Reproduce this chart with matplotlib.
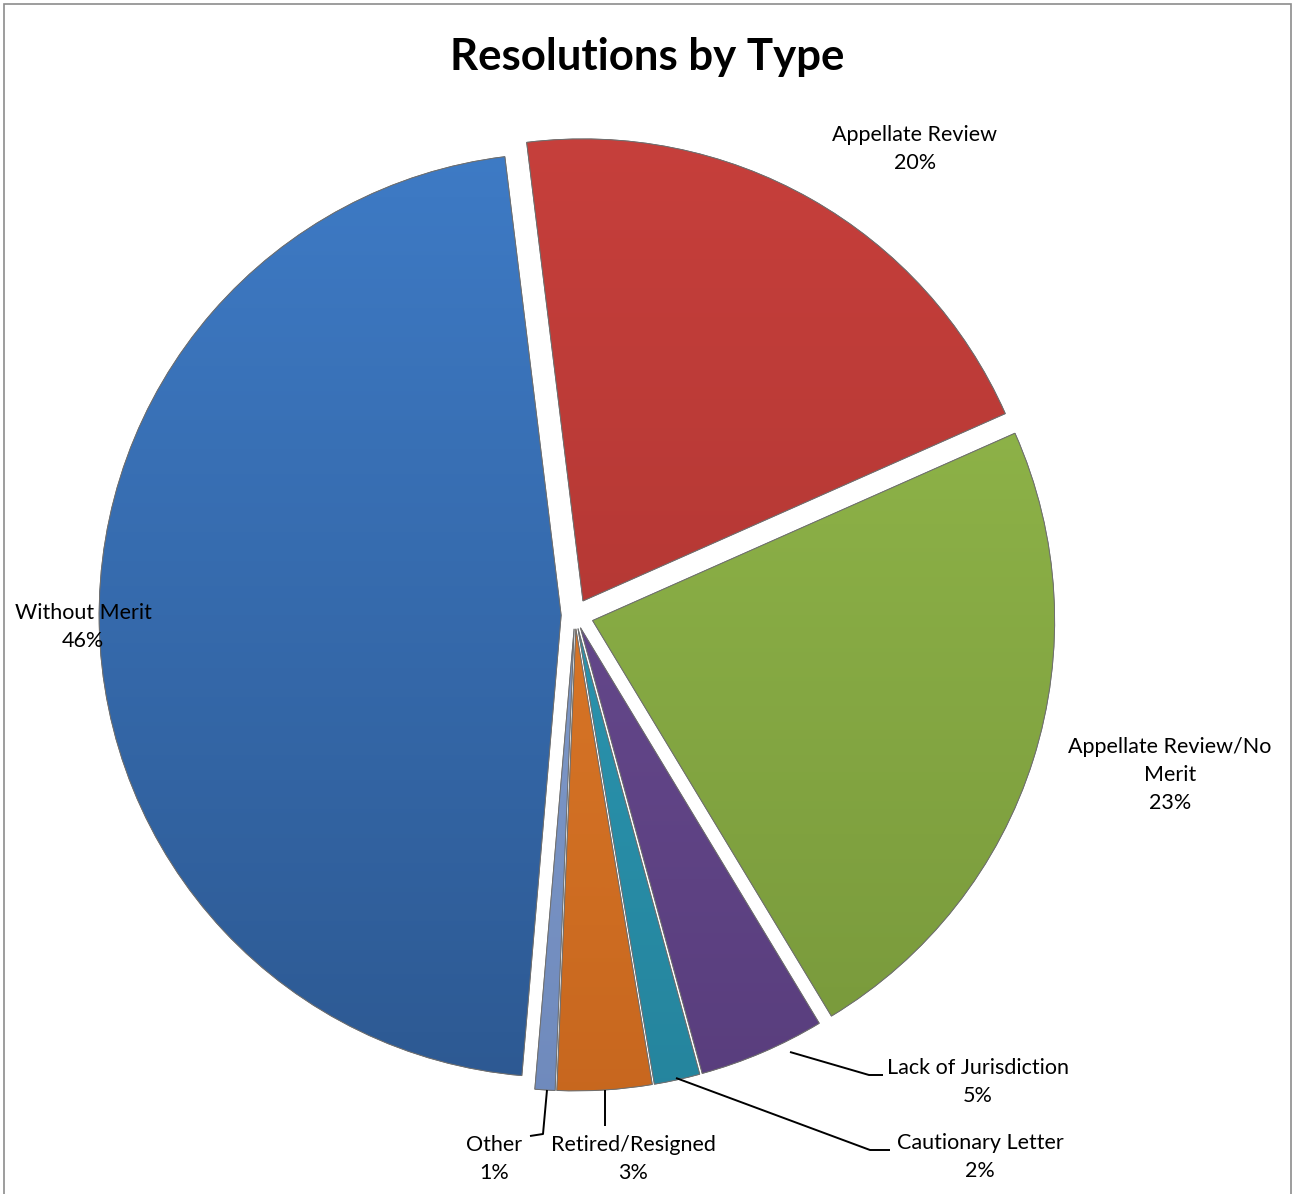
import numpy as np
import matplotlib
matplotlib.use("Agg")
import matplotlib.pyplot as plt
from matplotlib.colors import LinearSegmentedColormap
from matplotlib.patches import Rectangle, Wedge

# ---- data ----
categories = ["Appellate Review", "Appellate Review/No\nMerit", "Lack of Jurisdiction",
              "Cautionary Letter", "Retired/Resigned", "Other", "Without Merit"]
values = [20.3, 23.0, 4.4, 1.6, 3.3, 0.7, 46.7]
pct_labels = ["20%", "23%", "5%", "2%", "3%", "1%", "46%"]
top_colors = ["#C8403C", "#98BF4E", "#6F5198", "#2EA3BF", "#E8832F", "#8FA8D4", "#3F7DC9"]
bot_colors = ["#A3312E", "#76963A", "#583D7C", "#25839C", "#C6661E", "#6E89BC", "#2C578F"]

W, H = 1295, 1194
R = 462.0           # pie radius in px
CX, CY = 575.0, 615.0  # pie centre in px (from top-left)

plt.rcParams['font.family'] = ['Lato', 'DejaVu Sans']
fig = plt.figure(figsize=(W / 100, H / 100), dpi=100)
ax = fig.add_axes([0, 0, 1, 1])

def px(x, y):
    return (x - CX) / R, (CY - y) / R

explode = [0.035, 0.04, 0.03, 0.03, 0.03, 0.03, 0.03]
wedges, _ = ax.pie(values, startangle=97, counterclock=False, explode=explode,
                   colors=top_colors, radius=1.0,
                   wedgeprops=dict(edgecolor="#7a7a7a", linewidth=0.6))

ax.axis('off')

# gradient fill clipped to each wedge
for w, c1, c2 in zip(wedges, top_colors, bot_colors):
    cmap = LinearSegmentedColormap.from_list("g", [c2, c1])
    grad = np.linspace(0, 1, 256).reshape(-1, 1)
    im = ax.imshow(grad, cmap=cmap, origin="lower", aspect="auto",
                   extent=[-1.2, 1.2, -1.15, 1.15], zorder=w.get_zorder() + 0.1,
                   interpolation="bilinear")
    im.set_clip_path(w)
    edge = Wedge(w.center, w.r, w.theta1, w.theta2, facecolor="none",
                 edgecolor="#6f6f6f", linewidth=0.7, zorder=w.get_zorder() + 0.2)
    ax.add_patch(edge)

ax.set_xlim(-CX / R, (W - CX) / R)
ax.set_ylim(-(H - CY) / R, CY / R)
ax.set_aspect('auto')

fs = 15.5
def lab(i, x, y):
    ax.text(*px(x, y), categories[i] + "\n" + pct_labels[i], ha="center", va="center",
            fontsize=fs, linespacing=1.5, color="#000000", zorder=10)

lab(0, 915, 149)
lab(1, 1170, 775)
lab(2, 978, 1082)
lab(3, 980, 1157)
lab(4, 633, 1159)
lab(5, 494, 1159)
lab(6, 83, 627)

def leader(pts):
    xs, ys = zip(*[px(x, y) for x, y in pts])
    ax.plot(xs, ys, color="#000000", linewidth=1.4, zorder=9, solid_capstyle="butt")

leader([(790, 1052), (869, 1075), (883, 1075)])
leader([(676, 1078), (870, 1150), (890, 1150)])
leader([(605, 1090), (605, 1126)])
leader([(547, 1090), (543, 1134), (530, 1136)])

fig.text(0.5, 1 - 57 / H, "Resolutions by Type", ha="center", va="center",
         fontsize=31.5, fontweight="bold")

fig.patches.append(Rectangle((4 / W, -0.01), (W - 8) / W, 1 - 4 / H + 0.01,
                             transform=fig.transFigure, fill=False,
                             edgecolor="#8c8c8c", linewidth=1.2))

fig.savefig("out.png", dpi=100, facecolor="white")
